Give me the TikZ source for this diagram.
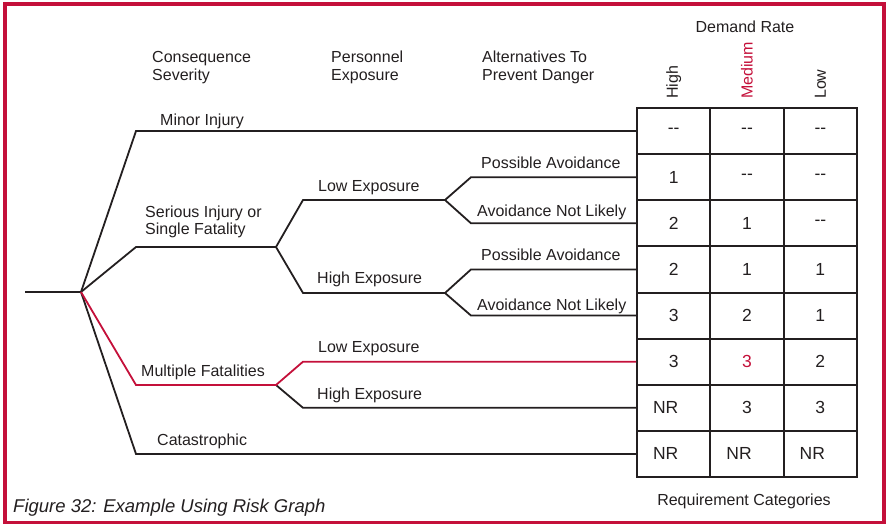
\documentclass[tikz,border=0pt]{standalone}
\usepackage{fontspec}
\setmainfont{Liberation Sans}

\definecolor{riskred}{RGB}{196,16,58}
\definecolor{ink}{RGB}{35,31,32}
\newcommand{\twodash}{-{}-}
\newcommand{\nr}{NR\hspace*{16pt}}

\begin{document}
\begin{tikzpicture}[x=1pt, y=-1pt,
    branch/.style={line width=1.8pt, draw=ink},
    hot/.style={line width=1.8pt, draw=riskred},
    lbl/.style={anchor=base west, inner sep=0pt, text=ink, font=\fontsize{16}{18}\selectfont},
    cell/.style={draw=ink, line width=2pt, minimum width=73.33pt, minimum height=46.125pt,
                 inner sep=0pt, text=ink, font=\fontsize{17.5}{20}\selectfont}]

    \useasboundingbox (0,0) rectangle (886,525);

    % Red frame round the figure
    \draw[riskred, line width=3.5pt] (5,4) rectangle (884,522.5);

    % Column headings over the tree
    \node[lbl, align=left] (conseq) at (152,80.5) {Consequence\\Severity};
    \node[lbl, align=left] (expo) at (331,80.5) {Personnel\\Exposure};
    \node[lbl, align=left] (alter) at (482,80.5) {Alternatives To\\Prevent Danger};
    \node[lbl, anchor=base] (demand) at (745,32) {Demand Rate};

    % Requirement grid, one row of cells per branch end
    \foreach \r/\a/\b/\c in {1/\twodash/\twodash/\twodash, 2/1/\twodash/\twodash,
                             3/2/1/\twodash, 4/2/1/1, 5/3/2/1,
                             6/3/{\textcolor{riskred}{3}}/2, 7/\nr/3/3, 8/\nr/\nr/\nr} {
        \node[cell] (cell-\r-1) at ({673.67}, {108+46.125*(\r-0.5)}) {\a};
        \node[cell] (cell-\r-2) at ({747}, {108+46.125*(\r-0.5)}) {\b};
        \node[cell] (cell-\r-3) at ({820.33}, {108+46.125*(\r-0.5)}) {\c};
    }

    % Demand rate headings, turned upright
    \foreach \c/\rate/\col in {1/High/ink, 2/Medium/riskred, 3/Low/ink}
        \node[lbl, anchor=west, rotate=90, text=\col] (rate-\c) at ([yshift=8pt]cell-1-\c.north) {\rate};

    \node[lbl, anchor=base] (reqcat) at (744,505) {Requirement Categories};

    % Branch points of the risk tree
    \coordinate (start) at (25,292);
    \coordinate (root) at (81,292);
    \coordinate (minor) at (136,131.06);
    \coordinate (serious) at (136,247);
    \coordinate (seriousend) at (276,247);
    \coordinate (sLow) at (303,200);
    \coordinate (sLowend) at (445,200);
    \coordinate (sHigh) at (303,293);
    \coordinate (sHighend) at (445,293);
    \coordinate (multi) at (136,385);
    \coordinate (multiend) at (276,385);
    \coordinate (mLow) at (303,361.69);
    \coordinate (mHigh) at (303,407.81);
    \coordinate (cata) at (136,453.94);
    \coordinate (avoid1) at (471,177.19);
    \coordinate (avoid2) at (471,223.31);
    \coordinate (avoid3) at (471,269.44);
    \coordinate (avoid4) at (471,315.56);

    % Black branches
    \draw[branch] (start) -- (root) -- (minor) -- (cell-1-1.west);
    \draw[branch] (root) -- (serious) -- (seriousend) -- (sLow) -- (sLowend);
    \draw[branch] (seriousend) -- (sHigh) -- (sHighend);
    \draw[branch] (sLowend) -- (avoid1) -- (cell-2-1.west);
    \draw[branch] (sLowend) -- (avoid2) -- (cell-3-1.west);
    \draw[branch] (sHighend) -- (avoid3) -- (cell-4-1.west);
    \draw[branch] (sHighend) -- (avoid4) -- (cell-5-1.west);
    \draw[branch] (multiend) -- (mHigh) -- (cell-7-1.west);
    \draw[branch] (root) -- (cata) -- (cell-8-1.west);

    % The example path in red
    \draw[hot] (root) -- (multi) -- (multiend) -- (mLow) -- (cell-6-1.west);

    % Branch labels
    \node[lbl] (minorlbl) at (160,125) {Minor Injury};
    \node[lbl, align=left, font=\fontsize{16}{16.5}\selectfont] (seriouslbl) at (145,234.3) {Serious Injury or\\Single Fatality};
    \node[lbl] (multilbl) at (141,376) {Multiple Fatalities};
    \node[lbl] (catalbl) at (157,445) {Catastrophic};
    \node[lbl] (slowlbl) at (318,191.7) {Low Exposure};
    \node[lbl] (shighlbl) at (317,283) {High Exposure};
    \node[lbl] (mlowlbl) at (318,352.5) {Low Exposure};
    \node[lbl] (mhighlbl) at (317,399) {High Exposure};
    \node[lbl] (avoid1lbl) at (481,168.3) {Possible Avoidance};
    \node[lbl] (avoid2lbl) at (477,216) {Avoidance Not Likely};
    \node[lbl] (avoid3lbl) at (481,260.5) {Possible Avoidance};
    \node[lbl] (avoid4lbl) at (477,310) {Avoidance Not Likely};

    % Caption
    \node[lbl, font=\fontsize{18.5}{22}\selectfont\itshape] (caption) at (13,512.5) {Figure 32: Example Using Risk Graph};

\end{tikzpicture}
\end{document}
